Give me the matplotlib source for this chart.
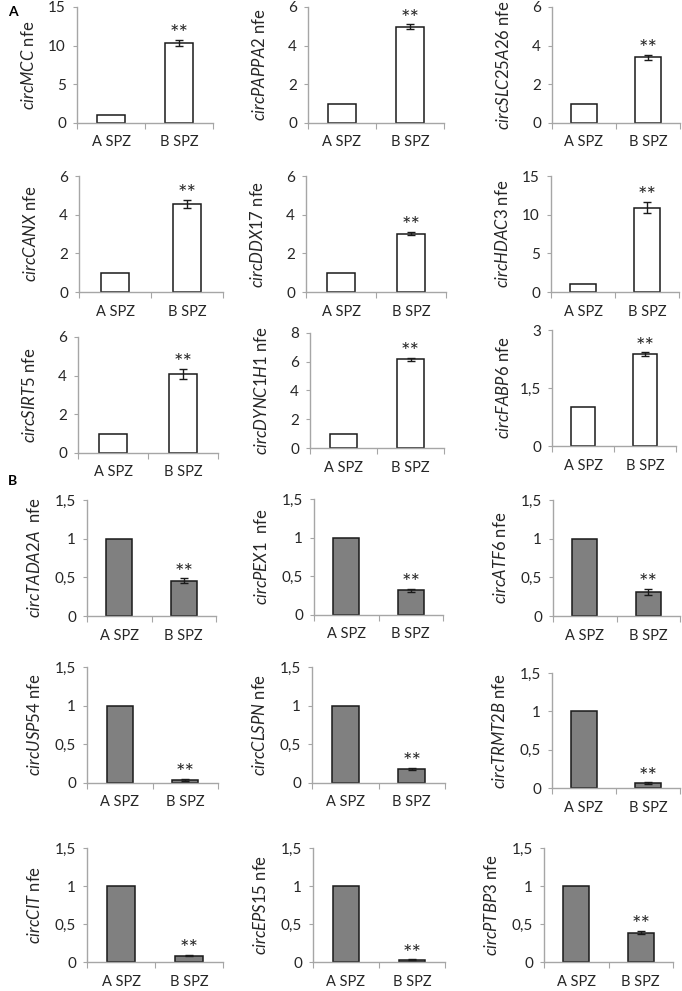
import numpy as np
import matplotlib
matplotlib.use('Agg')
import matplotlib.pyplot as plt

plt.rcParams['font.family'] = 'Lato'
plt.rcParams['mathtext.fontset'] = 'custom'
plt.rcParams['mathtext.it'] = 'Lato:italic'
plt.rcParams['mathtext.rm'] = 'Lato'

# data
groups = ['A SPZ', 'B SPZ']

genes_up = ['MCC', 'PAPPA2', 'SLC25A26', 'CANX', 'DDX17', 'HDAC3', 'SIRT5', 'DYNC1H1', 'FABP6']
a_spz_up = [1, 1, 1, 1, 1, 1, 1, 1, 1]
b_spz_up = [10.4, 4.97, 3.4, 4.55, 3.02, 10.9, 4.1, 6.17, 2.37]
err_up = [0.38, 0.13, 0.12, 0.22, 0.08, 0.72, 0.25, 0.1, 0.05]
ymax_up = [15, 6, 6, 6, 6, 15, 6, 8, 3]
ystep_up = [5, 2, 2, 2, 2, 5, 2, 2, 1.5]

genes_down = ['TADA2A', 'PEX1', 'ATF6', 'USP54', 'CLSPN', 'TRMT2B', 'CIT', 'EPS15', 'PTBP3']
a_spz_down = [1, 1, 1, 1, 1, 1, 1, 1, 1]
b_spz_down = [0.455, 0.32, 0.31, 0.04, 0.18, 0.06, 0.085, 0.03, 0.385]
err_down = [0.03, 0.02, 0.035, 0.008, 0.012, 0.012, 0.006, 0.005, 0.02]
label_sep = ['  ', '  ', ' ', ' ', ' ', ' ', ' ', ' ', ' ']

# axes boxes in pixels: left, right, top, bottom
W, H = 682, 991
boxes = [
    (77, 213, 7, 123), (308, 444, 7, 123), (552, 680, 7, 123),
    (79, 223, 176, 292), (306, 446, 176, 292), (551, 679, 176, 292),
    (78, 218, 337, 453), (310, 444, 333, 448), (552, 676, 330, 446),
    (87, 216, 500, 616), (314, 443, 499, 615), (553, 680, 500, 616),
    (87, 218, 667, 783), (312, 445, 667, 783), (552, 680, 673, 788),
    (87, 223, 848, 962), (313, 445, 848, 962), (544, 673, 848, 962),
]

fig = plt.figure(figsize=(W / 100, H / 100), dpi=100)

spine_col = '#a6a6a6'
text_col = '#262626'


def fmt(v):
    s = ('%g' % v)
    return s.replace('.', ',')


def panel(box, gene, a, b, e, ymax, ystep, fill, sep):
    l, r, t, btm = box
    ax = fig.add_axes([l / W, 1 - btm / H, (r - l) / W, (btm - t) / H])
    x = np.arange(2)
    ax.bar(x, [a, b], width=0.4, color=fill, edgecolor='#1a1a1a', linewidth=1.1, zorder=2)
    ax.errorbar([1], [b], yerr=[e], fmt='none', ecolor='#1a1a1a', elinewidth=1,
                capsize=3, capthick=1, zorder=3)
    ax.annotate('**', (1, b + e), xytext=(0, -3), textcoords='offset points',
                ha='center', va='bottom', fontsize=16, color=text_col)
    ax.set_xlim(-0.5, 1.5)
    ax.set_ylim(0, ymax)
    yt = np.arange(0, ymax + 1e-9, ystep)
    ax.set_yticks(yt)
    ax.set_yticklabels([fmt(v) for v in yt])
    ax.set_xticks([-0.5, 0.5, 1.5])
    ax.set_xticklabels([])
    ax.set_xticks(x, minor=True)
    ax.set_xticklabels(groups, minor=True)
    ax.tick_params(axis='x', which='major', length=4, color=spine_col, direction='out')
    ax.tick_params(axis='x', which='minor', length=0, pad=9, labelsize=10.5, labelcolor=text_col)
    ax.tick_params(axis='y', length=3, color=spine_col, pad=5, labelsize=11, labelcolor=text_col)
    for s in ['top', 'right']:
        ax.spines[s].set_visible(False)
    for s in ['left', 'bottom']:
        ax.spines[s].set_color(spine_col)
        ax.spines[s].set_linewidth(1)
    ax.set_ylabel(r'$\mathit{circ' + gene + '}$' + sep + 'nfe', fontsize=12, color=text_col)
    off = 40 if ymax != 1.5 else 44
    ax.yaxis.set_label_coords(-off / (r - l), 0.5)
    return ax


for i in range(9):
    panel(boxes[i], genes_up[i], a_spz_up[i], b_spz_up[i], err_up[i],
          ymax_up[i], ystep_up[i], 'white', ' ')
for i in range(9):
    panel(boxes[9 + i], genes_down[i], a_spz_down[i], b_spz_down[i], err_down[i],
          1.5, 0.5, '#808080', label_sep[i])

fig.text(8 / W, 1 - 12 / H, 'A', fontsize=10, fontweight='bold', va='center', ha='left')
fig.text(8 / W, 1 - 481 / H, 'B', fontsize=10, fontweight='bold', va='center', ha='left')

fig.savefig('out.png', dpi=100, facecolor='white')
